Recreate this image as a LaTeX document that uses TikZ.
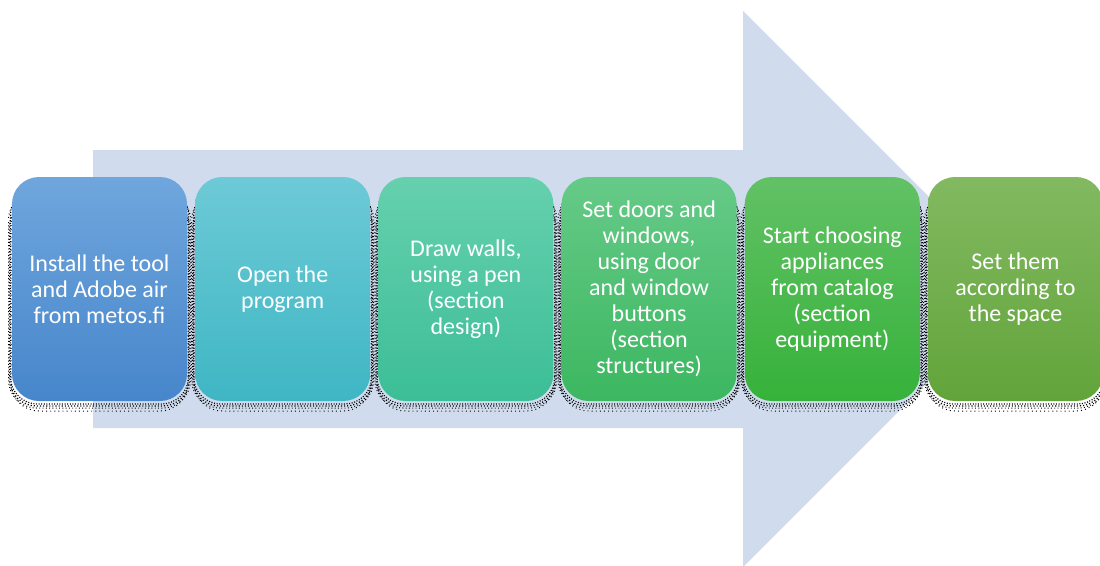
\documentclass[tikz,border=0pt]{standalone}
\usepackage{fontspec}
\setmainfont{Carlito}
\definecolor{arrowbg}{HTML}{D0DCEE}
\definecolor{aT}{HTML}{6FA6DD}\definecolor{aB}{HTML}{4786CB}
\definecolor{bT}{HTML}{6DCAD6}\definecolor{bB}{HTML}{3FB6C4}
\definecolor{cT}{HTML}{66D0AE}\definecolor{cB}{HTML}{3CBE96}
\definecolor{dT}{HTML}{66CA88}\definecolor{dB}{HTML}{3CB760}
\definecolor{eT}{HTML}{62C165}\definecolor{eB}{HTML}{36B23A}
\definecolor{fT}{HTML}{82B961}\definecolor{fB}{HTML}{62A43A}
\begin{document}
\begin{tikzpicture}[x=1pt,y=-1pt,
  stepbox/.style={rounded corners=27pt, minimum width=175pt, minimum height=224pt,
    inner sep=0pt, text=white, align=center,
    font=\fontsize{24}{26}\selectfont},
  shadowa/.style={draw=black, line width=1.2pt, dash pattern=on 1pt off 1.6pt, rounded corners=27pt},
  shadowb/.style={draw=black, line width=1pt, dash pattern=on 0.9pt off 2.4pt, dash phase=1.2pt, rounded corners=28pt}]
\useasboundingbox (0,0) rectangle (1100,565);
% big background arrow
\fill[arrowbg] (93,150) -- (743,150) -- (743,11) -- (1021,289) -- (743,567) -- (743,428) -- (93,428) -- cycle;
% shadows
\foreach \i in {0,...,5}{
  \pgfmathsetmacro\xa{12+183.2*\i}
  \draw[shadowa] (\xa-1.5,188) rectangle (\xa+176.5,404);
  \draw[shadowb] (\xa-3.5,192) rectangle (\xa+178.5,408);
  \draw[shadowa, line width=1.3pt, dash pattern=on 1.1pt off 2pt, dash phase=0.6pt] (\xa-2.5,200) rectangle (\xa+177.5,406);
  \draw[shadowb, dash phase=0pt, dash pattern=on 0.9pt off 3.2pt] (\xa-1,197) rectangle (\xa+176,411);
}
\node[stepbox, top color=aT, bottom color=aB] (b1) at (99.5,289) {Install the tool\\and Adobe air\\from metos.fi};
\node[stepbox, top color=bT, bottom color=bB] (b2) at (282.7,289) {Open the\\program};
\node[stepbox, top color=cT, bottom color=cB] (b3) at (465.9,289) {Draw walls,\\using a pen\\(section\\design)};
\node[stepbox, top color=dT, bottom color=dB] (b4) at (649.1,289) {Set doors and\\windows,\\using door\\and window\\buttons\\(section\\structures)};
\node[stepbox, top color=eT, bottom color=eB] (b5) at (832.3,289) {Start choosing\\appliances\\from catalog\\(section\\equipment)};
\node[stepbox, top color=fT, bottom color=fB] (b6) at (1015.5,289) {Set them\\according to\\the space};
\end{tikzpicture}
\end{document}
